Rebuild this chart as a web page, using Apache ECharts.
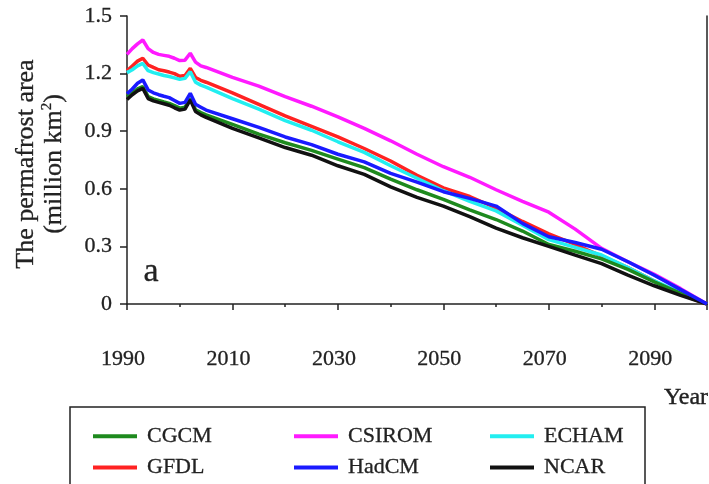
<!DOCTYPE html>
<html>
<head>
<meta charset="utf-8">
<script src="https://cdn.jsdelivr.net/npm/echarts@6/dist/echarts.min.js"></script>
<style>
  html, body { margin: 0; padding: 0; background: #fff; }
  #chart { width: 709px; height: 484px; }
</style>
</head>
<body>
<div id="chart"></div>
<script>
// Simulated permafrost area (million km²) under six climate models
const years = [1990, 1991, 1992, 1993, 1994, 1995, 1996, 1997, 1998, 1999, 2000, 2001, 2002, 2003, 2004, 2005,
  2010, 2015, 2020, 2025, 2030, 2035, 2040, 2045, 2050, 2055, 2060, 2065, 2070, 2075, 2080, 2085, 2090, 2095, 2100];

const cgcm = [1.08, 1.10, 1.12, 1.132, 1.08, 1.068, 1.06, 1.052, 1.045, 1.033, 1.02, 1.025, 1.07, 1.012, 0.997, 0.985,
  0.935, 0.885, 0.84, 0.80, 0.755, 0.71, 0.65, 0.595, 0.545, 0.49, 0.44, 0.38, 0.31, 0.275, 0.235, 0.18, 0.115, 0.055, 0];
const csirom = [1.30, 1.33, 1.355, 1.375, 1.33, 1.31, 1.30, 1.295, 1.29, 1.28, 1.268, 1.27, 1.306, 1.26, 1.24, 1.232,
  1.18, 1.135, 1.08, 1.03, 0.975, 0.915, 0.85, 0.78, 0.715, 0.66, 0.595, 0.535, 0.478, 0.39, 0.29, 0.22, 0.155, 0.08, 0];
const echam = [1.205, 1.22, 1.24, 1.253, 1.215, 1.205, 1.198, 1.19, 1.185, 1.178, 1.17, 1.175, 1.21, 1.155, 1.14, 1.13,
  1.07, 1.015, 0.955, 0.905, 0.845, 0.79, 0.72, 0.655, 0.59, 0.535, 0.485, 0.41, 0.335, 0.295, 0.255, 0.19, 0.12, 0.06, 0];
const gfdl = [1.215, 1.24, 1.265, 1.28, 1.245, 1.232, 1.22, 1.215, 1.208, 1.20, 1.186, 1.19, 1.227, 1.18, 1.165, 1.155,
  1.10, 1.04, 0.98, 0.925, 0.87, 0.81, 0.745, 0.67, 0.605, 0.56, 0.50, 0.43, 0.365, 0.31, 0.25, 0.19, 0.12, 0.05, 0];
const hadcm = [1.095, 1.12, 1.15, 1.167, 1.115, 1.10, 1.09, 1.082, 1.075, 1.06, 1.045, 1.05, 1.097, 1.04, 1.025, 1.01,
  0.965, 0.92, 0.87, 0.83, 0.78, 0.74, 0.68, 0.635, 0.585, 0.55, 0.51, 0.42, 0.35, 0.32, 0.285, 0.22, 0.15, 0.075, 0];
const ncar = [1.065, 1.09, 1.11, 1.123, 1.07, 1.058, 1.05, 1.043, 1.035, 1.022, 1.01, 1.015, 1.063, 1.002, 0.985, 0.972,
  0.915, 0.865, 0.815, 0.775, 0.72, 0.675, 0.61, 0.555, 0.51, 0.455, 0.395, 0.345, 0.30, 0.255, 0.21, 0.15, 0.095, 0.045, 0];

const yTicks = { min: 0, max: 1.5, step: 0.3 };
const xTicks = { min: 1990, max: 2100, step: 20 };

const SERIF = "'Liberation Serif', 'DejaVu Serif', serif";
const INK = '#222';
// a thin outline in the text colour gives the labels a slightly heavier stroke
const HEAVY = { textBorderColor: INK, textBorderWidth: 0.3 };

const models = [
  { name: 'CSIROM', values: csirom, color: '#ff1aff' },
  { name: 'GFDL', values: gfdl, color: '#ff2222' },
  { name: 'ECHAM', values: echam, color: '#22eef0' },
  { name: 'CGCM', values: cgcm, color: '#1e8a1e' },
  { name: 'NCAR', values: ncar, color: '#111111' },
  { name: 'HadCM', values: hadcm, color: '#1a1aff' }
];

const legendBase = {
  orient: 'vertical',
  top: 425,
  height: 80,
  padding: 0,
  itemWidth: 44,
  itemHeight: 4,
  itemGap: 9,
  icon: 'rect',
  selectedMode: false,
  textStyle: Object.assign({ fontFamily: SERIF, fontSize: 22, color: INK, lineHeight: 22, padding: [0, 0, 0, 5] }, HEAVY)
};

const chart = echarts.init(document.getElementById('chart'));
chart.setOption({
  animation: false,
  backgroundColor: '#fff',
  grid: { left: 127, right: 2, top: 16, bottom: 180 },
  legend: [
    Object.assign({}, legendBase, { left: 93, data: ['CGCM', 'GFDL'] }),
    Object.assign({}, legendBase, { left: 294, data: ['CSIROM', 'HadCM'] }),
    Object.assign({}, legendBase, { left: 490, data: ['ECHAM', 'NCAR'] })
  ],
  xAxis: {
    type: 'value',
    min: xTicks.min,
    max: xTicks.max,
    interval: xTicks.step,
    axisLine: { lineStyle: { color: INK, width: 1.5 } },
    axisTick: { length: 6, lineStyle: { color: INK, width: 1.5 } },
    minorTick: { show: true, splitNumber: 2, length: 3, lineStyle: { color: INK, width: 1.5 } },
    splitLine: { show: false },
    axisLabel: Object.assign({
      margin: 44, fontFamily: SERIF, fontSize: 22, color: INK,
      showMaxLabel: false, padding: [0, 8, 0, 0],
      formatter: v => String(v)
    }, HEAVY)
  },
  yAxis: [{
    type: 'value',
    min: yTicks.min,
    max: yTicks.max,
    interval: yTicks.step,
    axisLine: { show: true, lineStyle: { color: INK, width: 1.5 } },
    axisTick: { show: true, length: 7, lineStyle: { color: INK, width: 1.5 } },
    splitLine: { show: false },
    axisLabel: Object.assign({
      margin: 15, fontFamily: SERIF, fontSize: 22, color: INK,
      formatter: v => (v === 0 ? '0' : v.toFixed(1))
    }, HEAVY)
  }, {
    type: 'value',
    position: 'right',
    min: yTicks.min,
    max: yTicks.max,
    axisLine: { show: true, lineStyle: { color: INK, width: 1.5 } },
    axisTick: { show: false },
    axisLabel: { show: false },
    splitLine: { show: false }
  }],
  series: models.map(m => ({
    name: m.name,
    type: 'line',
    yAxisIndex: 0,
    showSymbol: false,
    symbol: 'none',
    lineStyle: { color: m.color, width: 3.5 },
    itemStyle: { color: m.color },
    data: years.map((y, i) => [y, m.values[i]])
  })),
  graphic: [
    {
      type: 'text', x: 40, y: 164, rotation: Math.PI / 2,
      style: {
        text: '{t|The permafrost area}\n{t|(million km}{s|2}{t|)}',
        align: 'center', verticalAlign: 'middle', fill: INK, stroke: INK, lineWidth: 0.3,
        rich: {
          t: { fontFamily: SERIF, fontSize: 26, lineHeight: 28, fill: INK, stroke: INK, lineWidth: 0.3 },
          s: { fontFamily: SERIF, fontSize: 15, lineHeight: 28, verticalAlign: 'top', fill: INK, stroke: INK, lineWidth: 0.3 }
        }
      }
    },
    {
      type: 'text', x: 151, y: 272,
      style: { text: 'a', font: '34px ' + SERIF, fill: INK, stroke: INK, lineWidth: 0.3, align: 'center', verticalAlign: 'middle' }
    },
    {
      type: 'text', x: 686, y: 398,
      style: { text: 'Year', font: '24px ' + SERIF, fill: INK, stroke: INK, lineWidth: 0.4, align: 'center', verticalAlign: 'middle' }
    },
    {
      type: 'rect',
      shape: { x: 70, y: 407, width: 575, height: 100 },
      style: { fill: 'none', stroke: INK, lineWidth: 1.5 }
    }
  ]
});
</script>
</body>
</html>
